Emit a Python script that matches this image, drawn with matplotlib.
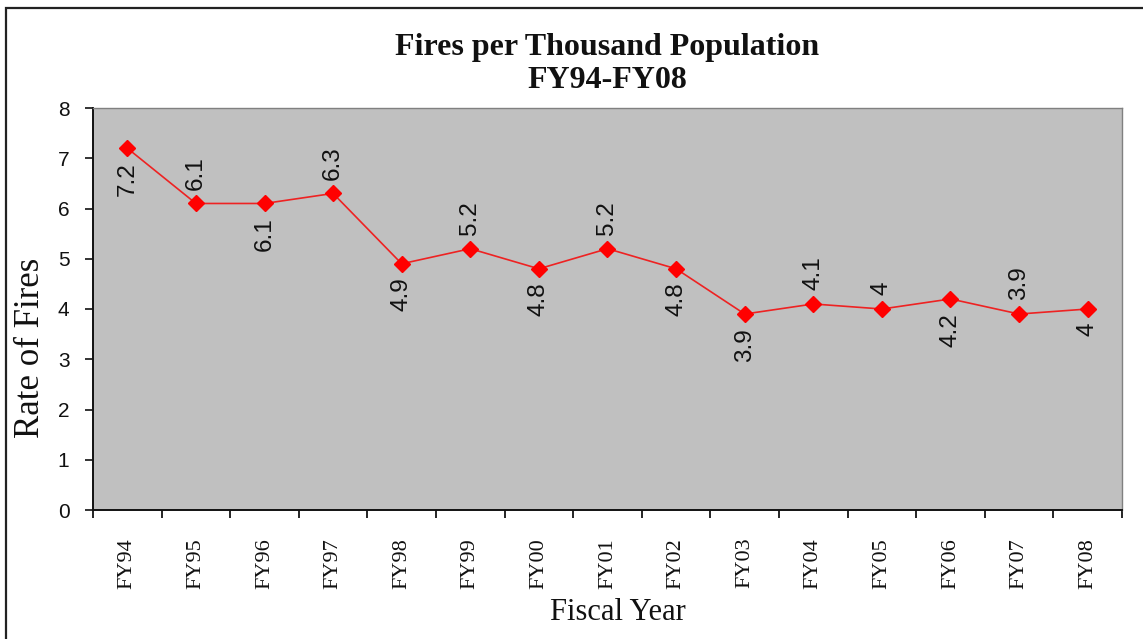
import matplotlib
matplotlib.use("Agg")
import matplotlib.pyplot as plt
from matplotlib.patches import Rectangle
import numpy as np

# Fiscal years and fire rates (fires per 1,000 population)
years = ["FY94", "FY95", "FY96", "FY97", "FY98", "FY99", "FY00", "FY01",
         "FY02", "FY03", "FY04", "FY05", "FY06", "FY07", "FY08"]
rates = [7.2, 6.1, 6.1, 6.3, 4.9, 5.2, 4.8, 5.2, 4.8, 3.9, 4.1, 4.0, 4.2, 3.9, 4.0]
# label side for each point: +1 above, -1 below
label_side = [-1, 1, -1, 1, -1, 1, -1, 1, -1, -1, 1, 1, -1, 1, -1]

W, H = 1143, 639
fig = plt.figure(figsize=(W / 100, H / 100), dpi=100)
fig.patch.set_facecolor("white")

# outer chart frame
fig.patches.append(Rectangle((6 / W, -0.05), 1.2, 1 - 8 / H + 0.05,
                             transform=fig.transFigure, fill=False,
                             edgecolor="#222222", linewidth=1.6))

ax = fig.add_axes([93 / W, 1 - 510 / H, (1122 - 93) / W, (510 - 108) / H])
ax.set_facecolor("#C0C0C0")

x = np.arange(len(years))
ax.plot(x, rates, color="#EE2222", linewidth=1.2, marker="D", markersize=8.5,
        markerfacecolor="#FF0000", markeredgecolor="#FF0000", zorder=3)

for xi, v, side in zip(x, rates, label_side):
    txt = f"{v:g}"
    ax.annotate(txt, (xi, v), xytext=(0, 10 * side), textcoords="offset points",
                rotation=90, ha="center", va="bottom" if side > 0 else "top",
                fontsize=17.5, family="Liberation Sans", color="#111111")

ax.set_xlim(-0.5, len(years) - 0.5)
ax.set_ylim(0, 8)
ax.set_yticks(range(0, 9))
ax.tick_params(axis="y", direction="out", length=6, width=1.2, pad=11,
               labelsize=15, colors="#111111")
for lbl in ax.get_yticklabels():
    lbl.set_family("Liberation Sans")

ax.set_xticks(x)
ax.set_xticklabels(years, rotation=90, family="Liberation Serif", fontsize=16,
                   va="top")
ax.set_xticks(np.arange(-0.5, len(years)), minor=True)
ax.tick_params(axis="x", which="major", length=0, pad=20, colors="#111111")
ax.tick_params(axis="x", which="minor", direction="out", length=6, width=1.2)

for s in ("left", "bottom"):
    ax.spines[s].set_color("#111111")
    ax.spines[s].set_linewidth(1.4)
for s in ("top", "right"):
    ax.spines[s].set_color("#808080")
    ax.spines[s].set_linewidth(1.0)

cx = (93 + 1122) / 2 / W
fig.text(cx, 1 - 64 / H, "Fires per Thousand Population\nFY94-FY08",
         ha="center", va="center", family="Liberation Serif", weight="bold",
         fontsize=23, linespacing=1.2, color="#111111")
fig.text(31 / W, 1 - 348 / H, "Rate of Fires", rotation=90, ha="center",
         va="center", family="Liberation Serif", fontsize=25, color="#111111")
fig.text(618 / W, 1 - 612 / H, "Fiscal Year", ha="center", va="center",
         family="Liberation Serif", fontsize=22, color="#111111")

fig.savefig("out.png", dpi=100)
